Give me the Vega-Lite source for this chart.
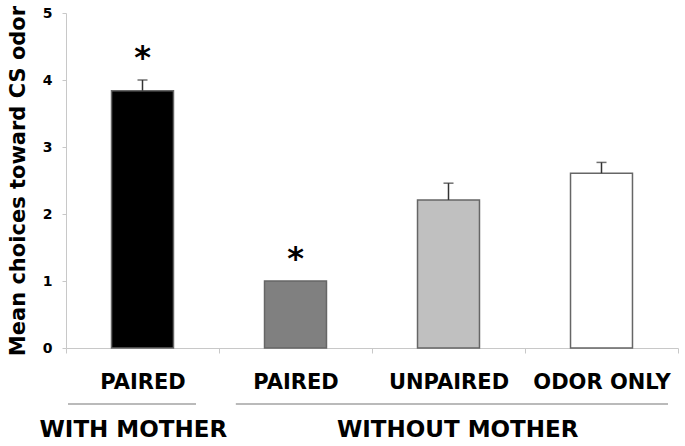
{
  "$schema": "https://vega.github.io/schema/vega-lite/v6.json",
  "width": 612,
  "height": 335,
  "autosize": {"type": "none"},
  "padding": {"left": 66, "top": 13, "right": 7, "bottom": 98},
  "background": "white",
  "config": {"view": {"stroke": null}, "font": "DejaVu Sans"},
  "datasets": {
    "bars": [
      {"cond": "PAIRED|WITH", "mean": 3.84, "upper": 4.0, "sig": "*"},
      {"cond": "PAIRED|WITHOUT", "mean": 1.0, "upper": 1.0, "sig": "*"},
      {"cond": "UNPAIRED|WITHOUT", "mean": 2.21, "upper": 2.46, "sig": ""},
      {"cond": "ODOR ONLY|WITHOUT", "mean": 2.61, "upper": 2.77, "sig": ""}
    ],
    "groups": [
      {"group": "WITH MOTHER", "from": "PAIRED|WITH", "to": "PAIRED|WITH", "mid": "PAIRED|WITH"},
      {"group": "WITHOUT MOTHER", "from": "PAIRED|WITHOUT", "to": "ODOR ONLY|WITHOUT", "mid": "UNPAIRED|WITHOUT"}
    ]
  },
  "layer": [
    {
      "data": {"name": "bars"},
      "mark": {"type": "bar", "width": {"band": 0.405}, "stroke": "#666666", "strokeWidth": 1.5},
      "encoding": {
        "x": {
          "field": "cond", "type": "nominal", "sort": null, "title": null,
          "scale": {"domain": ["PAIRED|WITH", "PAIRED|WITHOUT", "UNPAIRED|WITHOUT", "ODOR ONLY|WITHOUT"], "paddingInner": 0, "paddingOuter": 0},
          "axis": {
            "labelExpr": "datum.value ? split(datum.value,'|')[0] : ''", "labelAngle": 0,
            "labelFontSize": 21, "labelFontWeight": "bold", "labelColor": "black",
            "domainColor": "#c8c8c8", "tickColor": "#c8c8c8", "tickSize": 5,
            "tickBand": "extent", "labelPadding": 18
          }
        },
        "y": {
          "field": "mean", "type": "quantitative", "title": "Mean choices toward CS odor",
          "scale": {"domain": [0, 5], "nice": false},
          "axis": {
            "values": [0, 1, 2, 3, 4, 5], "format": "d", "grid": false,
            "labelFontSize": 14, "labelFontWeight": "bold", "labelColor": "black",
            "domainColor": "#c8c8c8", "tickColor": "#c8c8c8", "tickSize": 4, "labelPadding": 10,
            "titleFontSize": 21, "titleFontWeight": "bold", "titleColor": "black", "titlePadding": 14
          }
        },
        "color": {
          "field": "cond", "type": "nominal", "legend": null,
          "scale": {
            "domain": ["PAIRED|WITH", "PAIRED|WITHOUT", "UNPAIRED|WITHOUT", "ODOR ONLY|WITHOUT"],
            "range": ["#000000", "#808080", "#c0c0c0", "#ffffff"]
          }
        }
      }
    },
    {
      "data": {"name": "bars"},
      "transform": [{"filter": "datum.upper > datum.mean"}],
      "mark": {"type": "rule", "color": "#333333", "strokeWidth": 1.5},
      "encoding": {
        "x": {"field": "cond", "type": "nominal", "sort": null, "title": null},
        "y": {"field": "mean", "type": "quantitative", "title": "Mean choices toward CS odor"},
        "y2": {"field": "upper"}
      }
    },
    {
      "data": {"name": "bars"},
      "transform": [{"filter": "datum.upper > datum.mean"}],
      "mark": {"type": "tick", "color": "#333333", "size": 10, "thickness": 1.5, "orient": "horizontal"},
      "encoding": {
        "x": {"field": "cond", "type": "nominal", "sort": null, "title": null},
        "y": {"field": "upper", "type": "quantitative", "title": "Mean choices toward CS odor"}
      }
    },
    {
      "data": {"name": "bars"},
      "transform": [{"filter": "datum.sig != ''"}],
      "mark": {"type": "text", "fontSize": 32, "fontWeight": "bold", "color": "black", "baseline": "alphabetic", "dy": -12},
      "encoding": {
        "x": {"field": "cond", "type": "nominal", "sort": null, "title": null},
        "y": {"field": "upper", "type": "quantitative", "title": "Mean choices toward CS odor"},
        "text": {"field": "sig"}
      }
    },
    {
      "data": {"name": "groups"},
      "transform": [{"filter": "datum.group == 'WITH MOTHER'"}],
      "mark": {"type": "rule", "color": "#777777", "strokeWidth": 1.2},
      "encoding": {
        "x": {"field": "from", "type": "nominal", "sort": null, "bandPosition": 0.013, "title": null},
        "x2": {"field": "to", "bandPosition": 0.85},
        "y": {"datum": -0.836}
      }
    },
    {
      "data": {"name": "groups"},
      "transform": [{"filter": "datum.group == 'WITHOUT MOTHER'"}],
      "mark": {"type": "rule", "color": "#777777", "strokeWidth": 1.2},
      "encoding": {
        "x": {"field": "from", "type": "nominal", "sort": null, "bandPosition": 0.11, "title": null},
        "x2": {"field": "to", "bandPosition": 0.935},
        "y": {"datum": -0.836}
      }
    },
    {
      "data": {"name": "groups"},
      "transform": [{"filter": "datum.group == 'WITH MOTHER'"}],
      "mark": {"type": "text", "fontSize": 23, "fontWeight": "bold", "color": "black", "baseline": "middle"},
      "encoding": {
        "x": {"field": "mid", "type": "nominal", "sort": null, "bandPosition": 0.44, "title": null},
        "y": {"datum": -1.22},
        "text": {"field": "group"}
      }
    },
    {
      "data": {"name": "groups"},
      "transform": [{"filter": "datum.group == 'WITHOUT MOTHER'"}],
      "mark": {"type": "text", "fontSize": 23, "fontWeight": "bold", "color": "black", "baseline": "middle"},
      "encoding": {
        "x": {"field": "mid", "type": "nominal", "sort": null, "bandPosition": 0.56, "title": null},
        "y": {"datum": -1.22},
        "text": {"field": "group"}
      }
    }
  ]
}
